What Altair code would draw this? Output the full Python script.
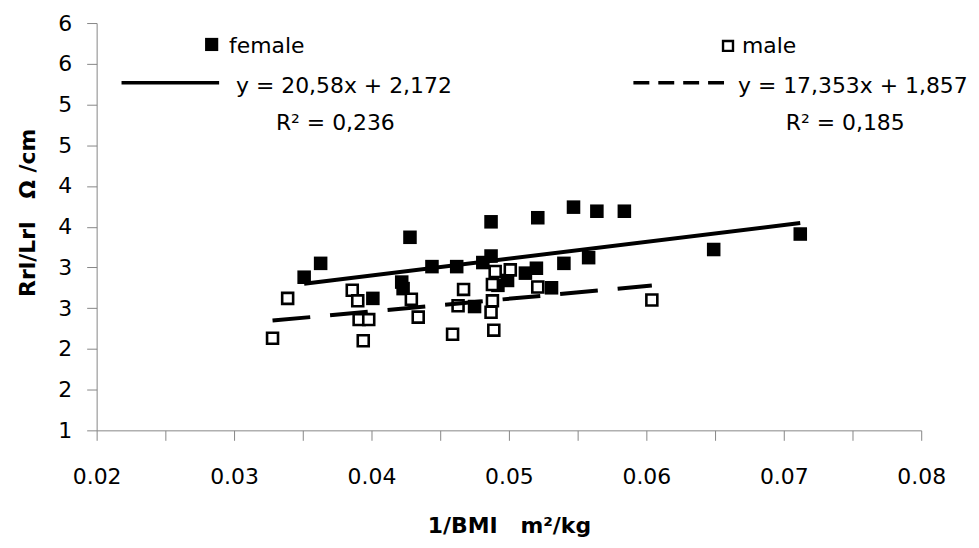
import altair as alt
import pandas as pd

# ---- data ----
female_x = [0.0351, 0.0363, 0.0401, 0.0422, 0.0423, 0.0428, 0.0444, 0.0462, 0.0475,
            0.0481, 0.0487, 0.0487, 0.0492, 0.0499, 0.0512, 0.0520, 0.0521, 0.0531,
            0.0540, 0.0547, 0.0558, 0.0564, 0.0584, 0.0649, 0.0712]
female_y = [2.88, 3.05, 2.62, 2.82, 2.74, 3.37, 3.01, 3.01, 2.52,
            3.06, 3.14, 3.56, 2.78, 2.84, 2.93, 2.99, 3.61, 2.75,
            3.05, 3.74, 3.12, 3.69, 3.69, 3.22, 3.41]

male_x = [0.0328, 0.0339, 0.0386, 0.0390, 0.0391, 0.0394, 0.0398, 0.0429, 0.0434,
          0.0459, 0.0463, 0.0467, 0.0487, 0.0488, 0.0488, 0.0489, 0.0490, 0.0501,
          0.0521, 0.0604]
male_y = [2.13, 2.62, 2.72, 2.59, 2.36, 2.10, 2.36, 2.61, 2.39,
          2.18, 2.53, 2.73, 2.45, 2.79, 2.59, 2.23, 2.95, 2.97,
          2.76, 2.60]

x_ticks = [0.02, 0.025, 0.03, 0.035, 0.04, 0.045, 0.05, 0.055, 0.06, 0.065, 0.07, 0.075, 0.08]
y_ticks = [1, 1.5, 2, 2.5, 3, 3.5, 4, 4.5, 5, 5.5, 6]

series_names = ["female", "male"]
equations = ["y = 20,58x + 2,172", "y = 17,353x + 1,857"]
r2_texts = ["R² = 0,236", "R² = 0,185"]

x_title = "1/BMI\u00a0\u00a0\u00a0m²/kg"
y_title = "Rrl/Lrl\u00a0\u00a0\u00a0Ω\u00a0/cm"

FONT = "DejaVu Sans"
GREY = "#868686"

female = pd.DataFrame({"x": female_x, "y": female_y})
male = pd.DataFrame({"x": male_x, "y": male_y})
dummy = pd.DataFrame({"k": [0]})

xs = alt.Scale(domain=[0.02, 0.08], nice=False, zero=False)
ys = alt.Scale(domain=[1, 6], nice=False, zero=False)

x_axis = alt.Axis(
    values=x_ticks,
    labelExpr="round(datum.value*1000) % 10 == 0 ? format(datum.value, '.2f') : ''",
    grid=False, domainColor=GREY, tickColor=GREY, tickSize=10,
    labelFont=FONT, labelFontSize=22, labelColor="black", labelPadding=26,
    labelFlush=False, labelOverlap=False, labelBound=False,
    title=x_title, titleFont=FONT, titleFontSize=22, titleFontWeight="bold",
    titleColor="black", titleY=103, titleBaseline="alphabetic",
)
y_axis = alt.Axis(
    values=y_ticks, format=".0f",
    grid=False, domainColor=GREY, tickColor=GREY, tickSize=10,
    labelFont=FONT, labelFontSize=22, labelColor="black", labelPadding=15,
    labelFlush=False, labelOverlap=False, labelBound=False,
    title=y_title, titleFont=FONT, titleFontSize=22, titleFontWeight="bold",
    titleColor="black", titleX=-62, titleY=190, titleBaseline="alphabetic",
    titleAlign="center", titleAngle=270,
)

X = alt.X("x:Q", scale=xs, axis=x_axis)
Y = alt.Y("y:Q", scale=ys, axis=y_axis)

female_pts = alt.Chart(female).mark_point(
    shape="square", filled=True, size=185, color="black", opacity=1
).encode(x=X, y=Y)

male_pts = alt.Chart(male).mark_point(
    shape="square", filled=False, size=121, strokeWidth=2.6, color="black",
    fill="white", fillOpacity=1, opacity=1
).encode(x=X, y=Y)

female_fit = alt.Chart(female).transform_regression("x", "y").mark_line(
    color="black", strokeWidth=4
).encode(x=X, y=Y)

male_fit = alt.Chart(male).transform_regression("x", "y").mark_line(
    color="black", strokeWidth=4, strokeDash=[38, 20]
).encode(x=X, y=Y)


def txt(s, px, py):
    return alt.Chart(dummy).mark_text(
        text=s, align="left", baseline="alphabetic", font=FONT, fontSize=22, color="black"
    ).encode(x=alt.value(px), y=alt.value(py))


leg_f_marker = alt.Chart(dummy).mark_point(
    shape="square", filled=True, size=175, color="black", opacity=1
).encode(x=alt.value(115.5), y=alt.value(21.5))
leg_m_marker = alt.Chart(dummy).mark_point(
    shape="square", filled=False, size=100, strokeWidth=2.4, color="black",
    fill="white", fillOpacity=1, opacity=1
).encode(x=alt.value(634), y=alt.value(23))

leg_f_line = alt.Chart(dummy).mark_rule(color="black", strokeWidth=3.5).encode(
    x=alt.value(25), x2=alt.value(123), y=alt.value(60)
)
leg_m_line = alt.Chart(dummy).mark_rule(color="black", strokeWidth=3.5, strokeDash=[16, 9]).encode(
    x=alt.value(539), x2=alt.value(630), y=alt.value(60)
)

chart = alt.layer(
    female_pts, male_pts, female_fit, male_fit,
    leg_f_marker, leg_m_marker, leg_f_line, leg_m_line,
    txt(series_names[0], 133, 30), txt(series_names[1], 648, 30),
    txt(equations[0], 140, 70), txt(equations[1], 644, 70),
    txt(r2_texts[0], 180, 107), txt(r2_texts[1], 692, 107),
).properties(
    width=828, height=409,
    autosize=alt.AutoSizeParams(type="none"),
    padding={"left": 89, "top": 14, "right": 50, "bottom": 110},
    background="white",
).configure_view(stroke="transparent")

chart.save("out.html", embed_options={"renderer": "svg", "actions": False})
